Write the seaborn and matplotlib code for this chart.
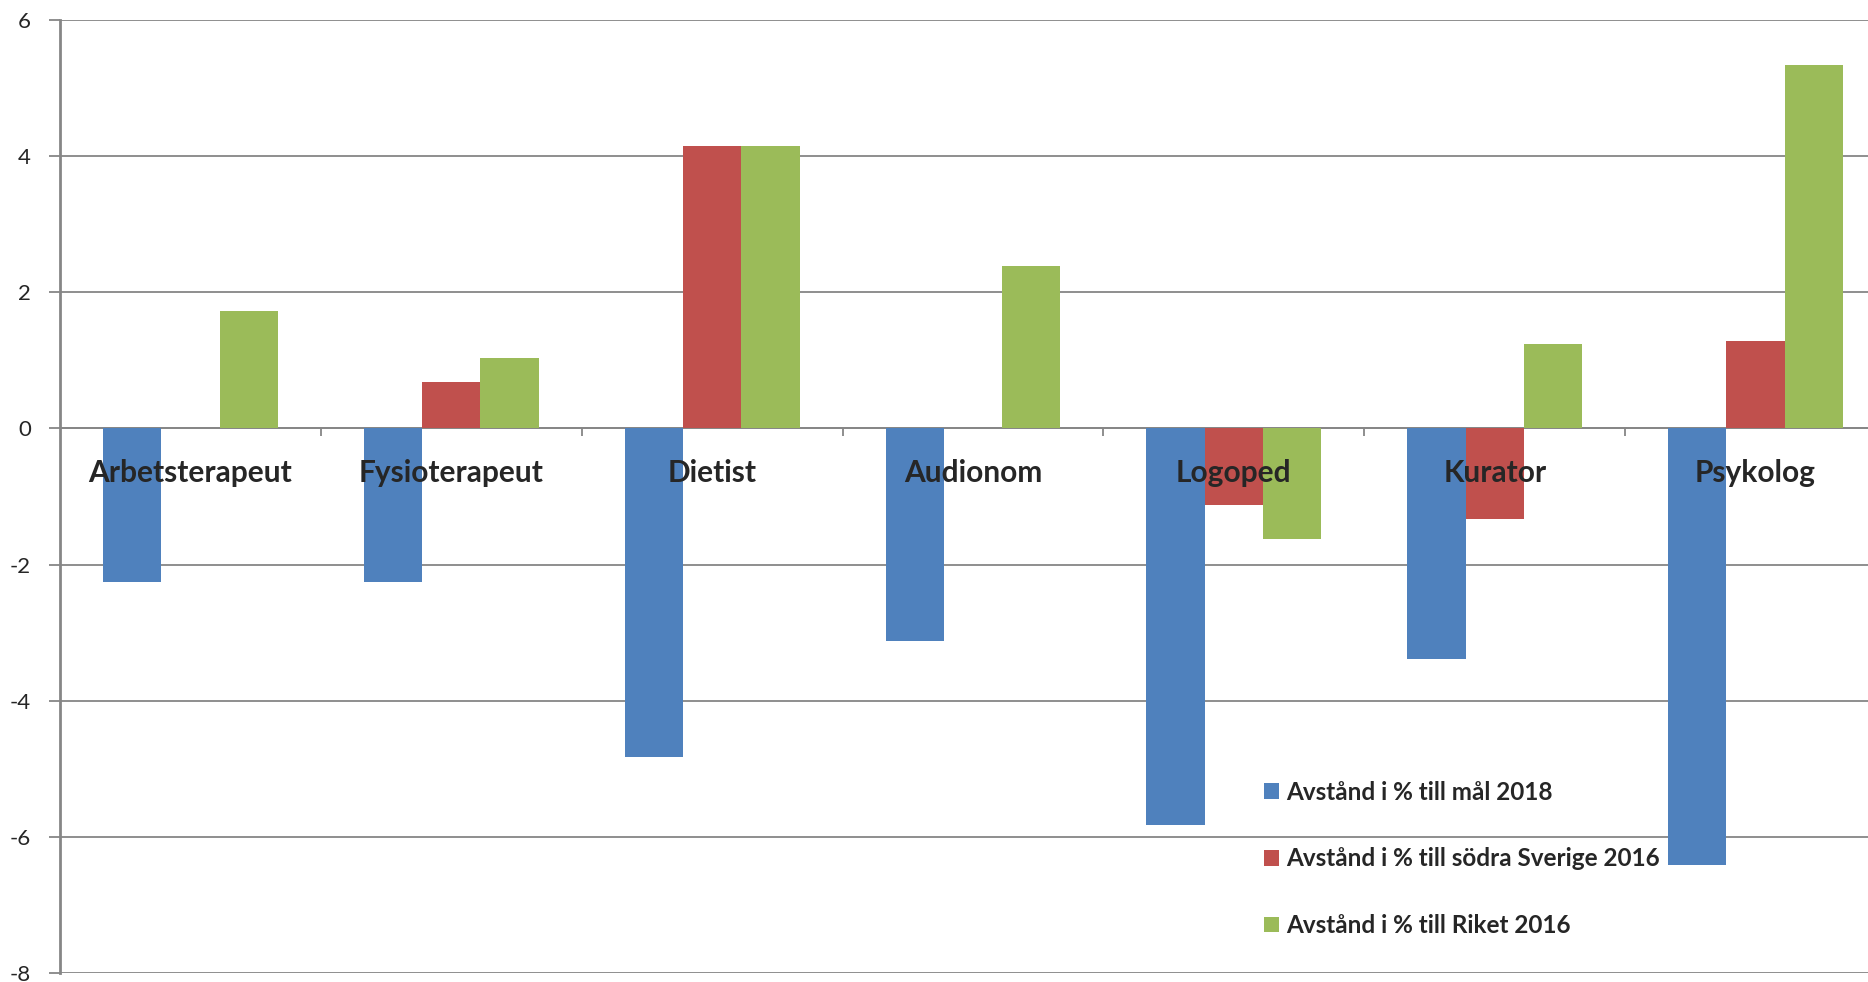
import matplotlib

matplotlib.use("Agg")
import matplotlib.pyplot as plt
import numpy as np
import pandas as pd
import seaborn as sns

# --------------------------------------------------------------------------- #
# Data
# --------------------------------------------------------------------------- #
categories = ["Arbetsterapeut", "Fysioterapeut", "Dietist", "Audionom",
              "Logoped", "Kurator", "Psykolog"]
series = ["Avstånd i % till mål 2018",
          "Avstånd i % till södra Sverige 2016",
          "Avstånd i % till Riket 2016"]
mal_2018 = [-2.26, -2.26, -4.83, -3.13, -5.83, -3.38, -6.42]
sodra_2016 = [0.0, 0.68, 4.15, 0.0, -1.12, -1.33, 1.28]
riket_2016 = [1.72, 1.03, 4.15, 2.38, -1.63, 1.24, 5.34]
y_ticks = [-8, -6, -4, -2, 0, 2, 4, 6]

colors = ["#4F81BD", "#C0504D", "#9BBB59"]

df = pd.DataFrame({
    "yrke": categories * 3,
    "serie": np.repeat(series, len(categories)),
    "varde": mal_2018 + sodra_2016 + riket_2016,
})

sns.set_style("white")
plt.rcParams["font.family"] = ["Lato", "DejaVu Sans"]

fig = plt.figure(figsize=(18.68, 9.82), dpi=100)
ax = fig.add_axes([60 / 1868, 9 / 982, 1826 / 1868, 953 / 982])

sns.barplot(data=df, x="yrke", y="varde", hue="serie", order=categories,
            hue_order=series, palette=colors, width=0.67, saturation=1,
            linewidth=0, ax=ax, legend=True)

ax.set_ylim(-8, 6)
ax.set_xlim(-0.5, len(categories) - 0.5)
ax.set_yticks(y_ticks)
ax.set_yticklabels([str(t) for t in y_ticks], fontsize=16)
ax.yaxis.grid(True, color="#868686", linewidth=1.3)
ax.set_axisbelow(True)
ax.set_xlabel("")
ax.set_ylabel("")

for side in ["top", "right"]:
    ax.spines[side].set_visible(False)
ax.spines["left"].set_color("#868686")
ax.spines["left"].set_linewidth(2)
ax.spines["bottom"].set_position(("data", 0))
ax.spines["bottom"].set_color("#868686")
ax.spines["bottom"].set_linewidth(1.3)
ax.spines["bottom"].set_zorder(0.5)

ax.set_xticks(np.arange(0.5, len(categories) - 0.5, 1))
ax.set_xticklabels([])
ax.tick_params(axis="x", direction="out", length=6, width=1.3,
               color="#868686", bottom=True)
ax.tick_params(axis="y", direction="out", length=8, width=1.3,
               color="#868686", left=True, pad=13)

# category names sit just below the zero line
for i, name in enumerate(categories):
    ax.text(i, -0.65, name, ha="center", va="center", fontsize=21.5,
            fontweight="bold", zorder=5)

handles, labels = ax.get_legend_handles_labels()
ax.legend(handles, labels, loc="upper left", bbox_to_anchor=(0.654, 0.212),
          frameon=False, prop={"weight": "bold", "size": 17.5},
          handlelength=0.6, handleheight=0.6, handletextpad=0.3,
          labelspacing=1.8, borderaxespad=0)

fig.savefig("out.png", dpi=100)
